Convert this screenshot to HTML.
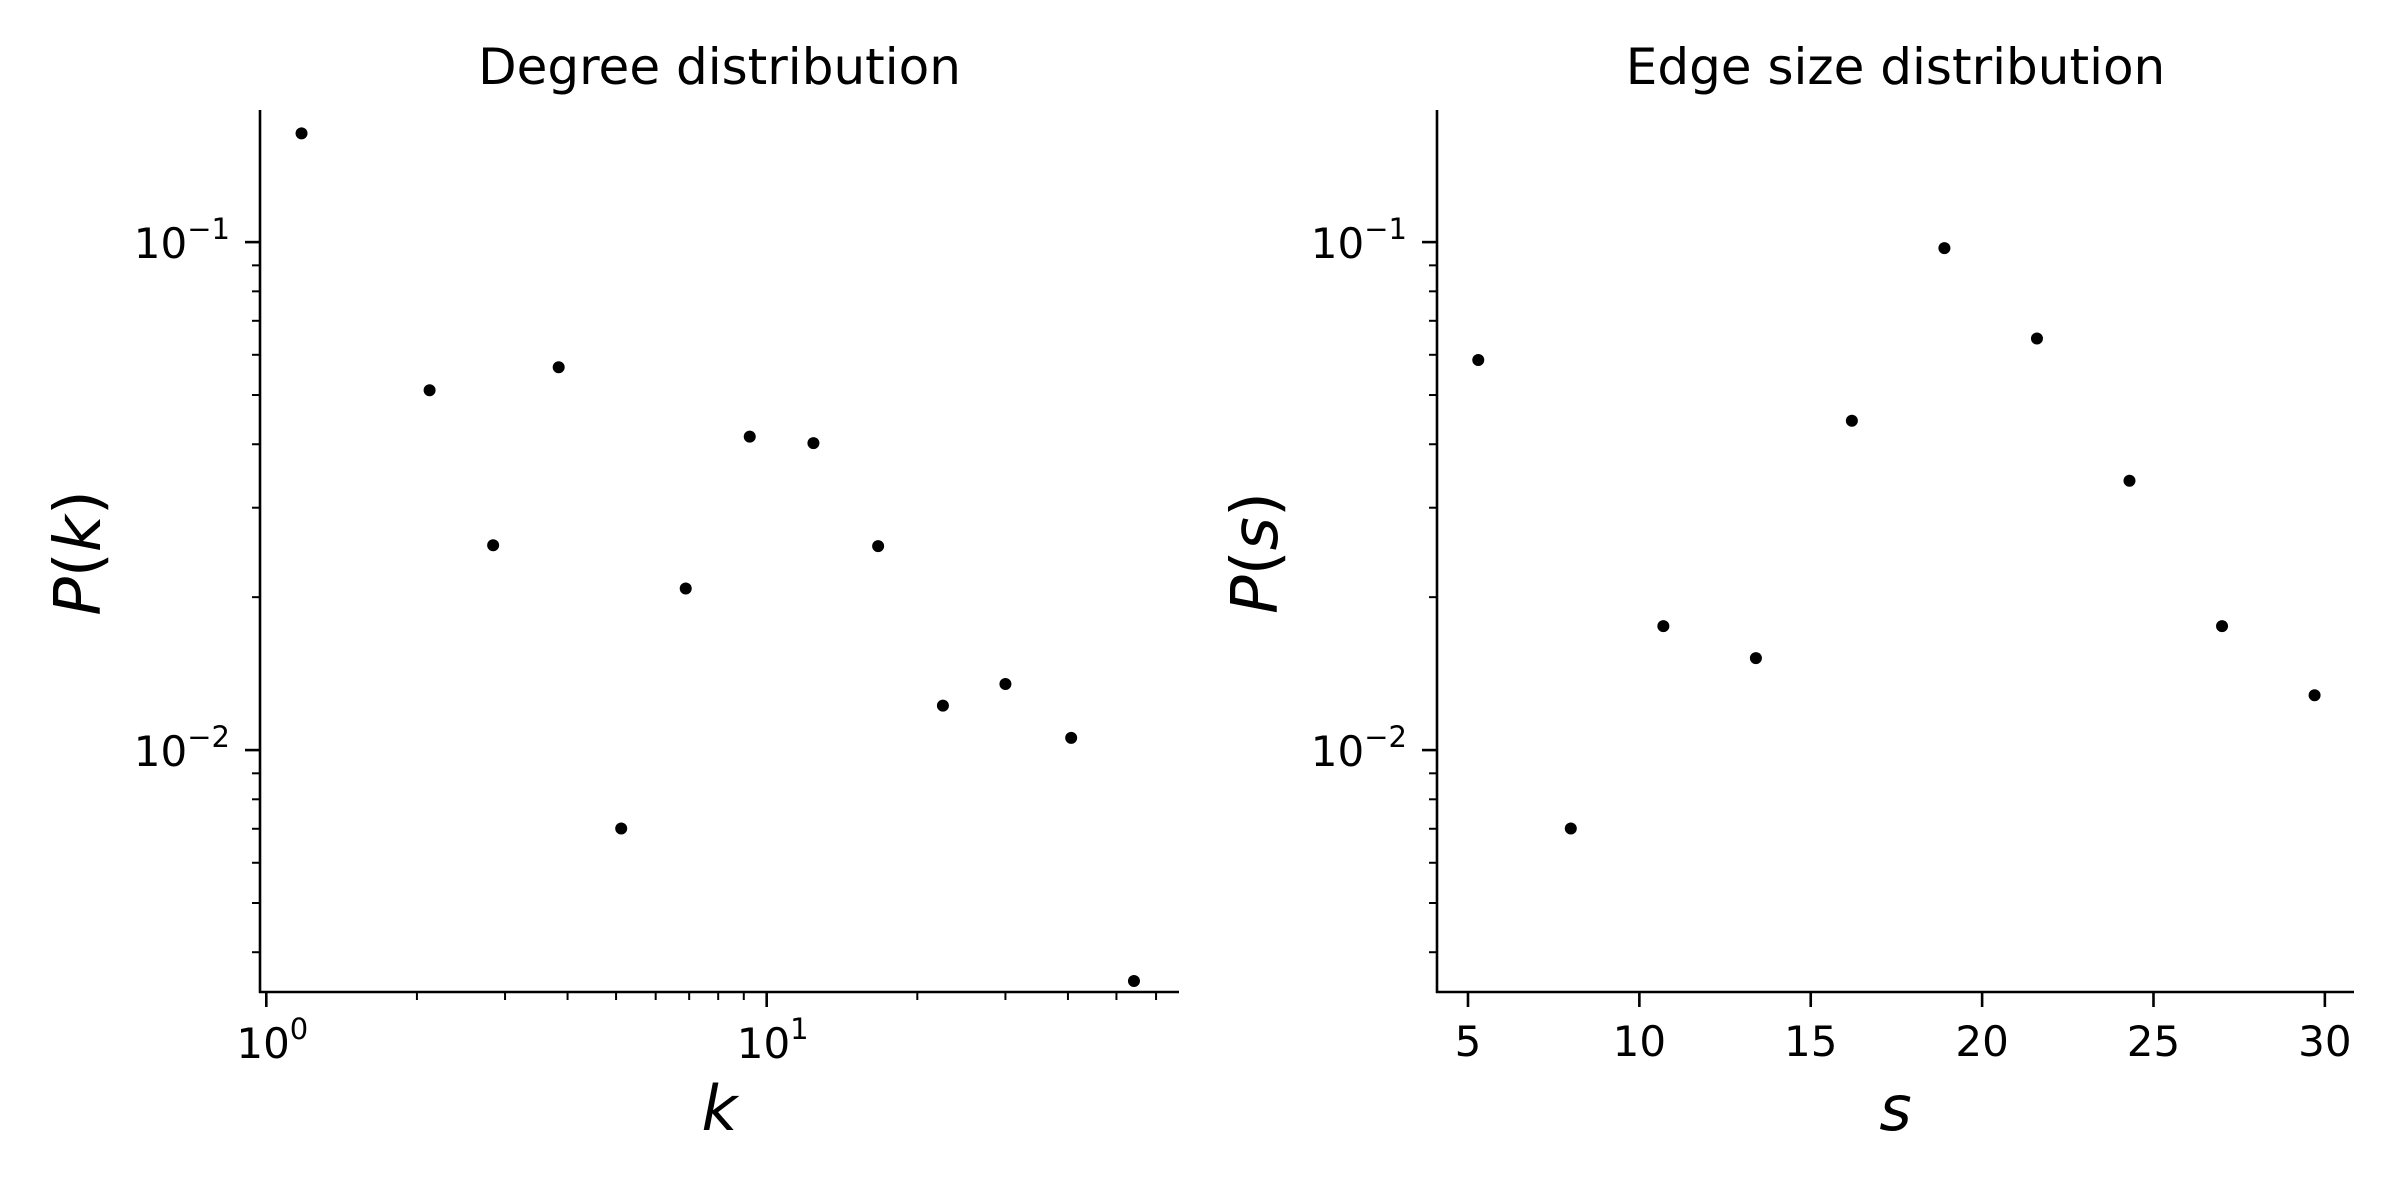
<!DOCTYPE html>
<html><head><meta charset="utf-8"><style>
html,body{margin:0;padding:0;background:#fff}
svg{display:block;font-family:"DejaVu Sans","Liberation Sans",sans-serif}
</style></head><body>
<svg id="fig" width="2400" height="1200" viewBox="0 0 2400 1200" xmlns="http://www.w3.org/2000/svg">
<rect width="2400" height="1200" fill="#fff"/>
<g id="left"></g>
<g id="right"></g>
</svg>
<script>
const degreeK = [1.176, 2.12, 2.84, 3.84, 5.12, 6.89, 9.25, 12.4, 16.7, 22.5, 30.0, 40.6, 54.2];
const degreeP = [0.1637, 0.0511, 0.0253, 0.0567, 0.00701, 0.0208, 0.0414, 0.0402, 0.0252, 0.01223, 0.01349, 0.01057, 0.00351];
const edgeS = [5.3, 8.0, 10.7, 13.4, 16.2, 18.9, 21.6, 24.3, 27.0, 29.7];
const edgeP = [0.0586, 0.00701, 0.01754, 0.01517, 0.0445, 0.0973, 0.0646, 0.0339, 0.01754, 0.01282];
const yMajorExp = [-1, -2];
const xMajorExpLeft = [0, 1];
const xTicksRight = [5, 10, 15, 20, 25, 30];

const NS = "http://www.w3.org/2000/svg";
function mk(parent, tag, attrs, text) {
  const e = document.createElementNS(NS, tag);
  for (const k in attrs) e.setAttribute(k, attrs[k]);
  if (text !== undefined) e.textContent = text;
  parent.appendChild(e);
  return e;
}
const TOP = 110, BOT = 992;
const yLogMin = Math.log10(0.00334), yLogMax = Math.log10(0.182);
function yScale(v) { return BOT - (Math.log10(v) - yLogMin) / (yLogMax - yLogMin) * (BOT - TOP); }

function drawPanel(g, L, R, xScale, title, xl, yl, xs, ys) {
  let e;
  e = mk(g, "line", {x1: L, y1: TOP, x2: L, y2: BOT + 1, stroke: "#000", "stroke-width": 2.6});
   
  e = mk(g, "line", {x1: L - 1, y1: BOT, x2: R, y2: BOT, stroke: "#000", "stroke-width": 2.6});
   
  for (let d = -3; d <= -1; d++) {
    for (let m = 1; m <= 9; m++) {
      const v = m * Math.pow(10, d);
      const y = yScale(v);
      if (y < TOP - 0.5 || y > BOT + 0.5) continue;
      const len = m === 1 ? 15 : 8;
      e = mk(g, "line", {x1: L - len, y1: y, x2: L, y2: y, stroke: "#000", "stroke-width": m === 1 ? 2.6 : 2});
      
      
    }
  }
  yMajorExp.forEach(ex => {
    const y = yScale(Math.pow(10, ex));
    const t = mk(g, "text", {x: L - 30, y: y + 16, "font-size": 42, "text-anchor": "end"});
    
    
    mk(t, "tspan", {}, "10");
    mk(t, "tspan", {"font-size": 29, dy: -19}, "\u2212" + Math.abs(ex));
  });
  xs.forEach((x, i) => {
    const c = mk(g, "circle", {cx: xScale(x), cy: yScale(ys[i]), r: 6, fill: "#000"});
    
    
  });
  const cx = (L + R) / 2;
  e = mk(g, "text", {x: cx, y: 84, "font-size": 50, "text-anchor": "middle"}, title);
   
  e = mk(g, "text", {x: cx, y: 1130, "font-size": 62, "text-anchor": "middle", "font-style": "italic"}, xl);
   
  e = mk(g, "text", {x: 0, y: 0, "font-size": 64, "text-anchor": "middle", transform: `translate(${L - 160},${(TOP + BOT) / 2 + 2}) rotate(-90)`});
   
  mk(e, "tspan", {"font-style": "italic"}, "P");
  mk(e, "tspan", {}, "(");
  mk(e, "tspan", {"font-style": "italic"}, xl);
  mk(e, "tspan", {}, ")");
}

const LL = 260, LR = 1179, xLogMin = -0.0126, xLogMax = 1.824;
function xLeft(v) { return LL + (Math.log10(v) - xLogMin) / (xLogMax - xLogMin) * (LR - LL); }
const gl = document.getElementById("left");
drawPanel(gl, LL, LR, xLeft, "Degree distribution", "k", "P(k)", degreeK, degreeP);
for (let d = 0; d <= 1; d++) {
  for (let m = 1; m <= 9; m++) {
    const v = m * Math.pow(10, d);
    const x = xLeft(v);
    if (x < LL - 0.5 || x > LR + 0.5) continue;
    const len = m === 1 ? 15 : 8;
    const e = mk(gl, "line", {x1: x, y1: BOT, x2: x, y2: BOT + len, stroke: "#000", "stroke-width": m === 1 ? 2.6 : 2});
    
    
  }
}
xMajorExpLeft.forEach(ex => {
  const x = xLeft(Math.pow(10, ex));
  const t = mk(gl, "text", {x: x + 6, y: 1058, "font-size": 42, "text-anchor": "middle"});
  
  
  mk(t, "tspan", {}, "10");
  mk(t, "tspan", {"font-size": 29, dy: -19}, String(ex));
});

const RL = 1437, RR = 2354, sMin = 4.096, sMax = 30.85;
function xRight(v) { return RL + (v - sMin) / (sMax - sMin) * (RR - RL); }
const gr = document.getElementById("right");
drawPanel(gr, RL, RR, xRight, "Edge size distribution", "s", "P(s)", edgeS, edgeP);
xTicksRight.forEach(v => {
  const x = xRight(v);
  let e = mk(gr, "line", {x1: x, y1: BOT, x2: x, y2: BOT + 15, stroke: "#000", "stroke-width": 2.6});
  
  
  e = mk(gr, "text", {x: x, y: 1056, "font-size": 42, "text-anchor": "middle"}, String(v));
  
  
});
</script>
</body></html>
